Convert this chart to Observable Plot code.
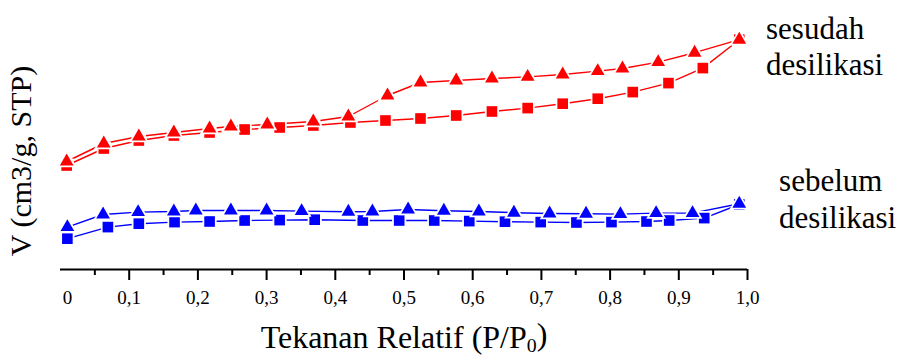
<!DOCTYPE html>
<html><head><meta charset="utf-8">
<script src="https://cdn.jsdelivr.net/npm/d3@7"></script>
<script src="https://cdn.jsdelivr.net/npm/@observablehq/plot@0.6"></script>
<style>body{margin:0;background:#fff} svg{display:block} svg text{font-family:"Liberation Serif","Times New Roman",serif}</style>
</head><body><div id="chart"></div>
<script>
// Relative pressure (P/P0) and volume adsorbed (arbitrary cm3/g units)
const sesudahTriX = [0.009,0.063,0.114,0.165,0.217,0.248,0.301,0.368,0.419,0.476,0.524,0.576,0.628,0.680,0.731,0.782,0.818,0.870,0.923,0.988];
const sesudahTriV = [54,63,66.5,68.5,70.5,71.5,72.5,74,76.5,87,93.5,94.5,95.5,96.3,97.5,99.2,100.5,103.7,108.4,114.9];
const sesudahSqX  = [0.009,0.063,0.114,0.165,0.217,0.268,0.319,0.368,0.422,0.473,0.524,0.576,0.628,0.680,0.731,0.782,0.833,0.885,0.935,0.988];
const sesudahSqV  = [52,60.5,64.5,67,68.5,70,71,72,73.5,74.5,75.5,77,79,80.7,82.9,85.4,88.7,93.2,100.7,114.9];
const sebelumTriX = [0.010,0.062,0.113,0.165,0.197,0.248,0.300,0.351,0.419,0.454,0.506,0.558,0.609,0.660,0.712,0.765,0.815,0.867,0.920,0.988];
const sebelumTriV = [21.2,27.5,28.7,29,29.5,29.5,29.5,29.2,28.9,29,30,29.4,29,28.4,28,27.9,27.7,28.2,28.2,32.9];
const sebelumSqX  = [0.010,0.069,0.114,0.166,0.217,0.268,0.319,0.370,0.440,0.493,0.544,0.595,0.647,0.699,0.751,0.802,0.853,0.886,0.937,0.988];
const sebelumSqV  = [15.4,21.2,22.9,23.7,24,24.5,24.7,24.9,24.5,24.5,24.5,24.2,23.9,23.7,23.5,23.7,24,24.5,25.7,32.5];

const majorTicks = [0.1,0.2,0.3,0.4,0.5,0.6,0.7,0.8,0.9,1.0];
const majorLabels = ["0,1","0,2","0,3","0,4","0,5","0,6","0,7","0,8","0,9","1,0"];
const minorTicks = [0.05,0.15,0.25,0.35,0.45,0.55,0.65,0.75,0.85,0.95];
const zeroTick = [0];
const zeroLabel = "0";

const xLabelMain = "Tekanan Relatif (P/P";
const xLabelSub = "0";
const xLabelEnd = ")";
const yLabel = "V (cm3/g, STP)";

const annotations = [
  {label: "sesudah\ndesilikasi", x: 1.027, v: 112.0},
  {label: "sebelum\ndesilikasi", x: 1.046, v: 35.8}
];

const RED = "#ff0000", BLUE = "#0000ff";
const FONT = "'Liberation Serif', 'Times New Roman', serif";
const rows = (xs, vs) => xs.map((x, i) => ({x, v: vs[i]}));
const series = [
  {data: rows(sesudahSqX, sesudahSqV), color: RED, symbol: "square", r: 6},
  {data: rows(sesudahTriX, sesudahTriV), color: RED, symbol: "triangle", r: 5.1},
  {data: rows(sebelumSqX, sebelumSqV), color: BLUE, symbol: "square", r: 6},
  {data: rows(sebelumTriX, sebelumTriV), color: BLUE, symbol: "triangle", r: 5.1}
];

const labelMap = new Map(majorTicks.map((t, i) => [t, majorLabels[i]]));

const marks = [];
for (const s of series) {
  marks.push(Plot.line(s.data, {x: "x", y: "v", stroke: s.color, strokeWidth: 1.4}));
}
for (const s of series) {
  marks.push(Plot.dot(s.data, {x: "x", y: "v", symbol: s.symbol, r: s.r, fill: s.color, stroke: "white", strokeWidth: 3.5, paintOrder: "stroke"}));
}
marks.push(
  Plot.ruleY([0], {strokeWidth: 2, stroke: "black"}),
  Plot.axisX(majorTicks, {tickSize: 11, strokeWidth: 2, tickPadding: 10, tickFormat: d => labelMap.get(d), fontSize: 19, fontFamily: FONT, label: null}),
  Plot.axisX(minorTicks, {tickSize: 6, strokeWidth: 2, tickFormat: () => "", label: null}),
  Plot.axisX(zeroTick, {tickSize: 0, tickPadding: 21, tickFormat: () => zeroLabel, fontSize: 19, fontFamily: FONT, dx: 7, label: null}),
  Plot.text([xLabelMain], {frameAnchor: "bottom", text: d => d, dy: 78, lineAnchor: "bottom", fontSize: 32, fontFamily: FONT}),
  Plot.text([yLabel], {frameAnchor: "left", text: d => d, textAnchor: "middle", rotate: -90, dx: -39, dy: 26, fontSize: 30, fontFamily: FONT}),
  Plot.text(annotations, {x: "x", y: "v", text: "label", textAnchor: "start", lineAnchor: "middle", lineHeight: 1.17, fontSize: 31, fontFamily: FONT})
);

const plot = Plot.plot({
  width: 899, height: 356,
  marginTop: 0, marginBottom: 87, marginLeft: 60, marginRight: 152,
  x: {domain: [0, 1], axis: null},
  y: {domain: [0, 134.5], axis: null},
  style: {fontFamily: FONT, color: "black", background: "white"},
  marks
});

// subscript in x label
d3.select(plot).selectAll("text").filter(function() { return this.textContent === xLabelMain; })
  .each(function() {
    const t = d3.select(this);
    t.text(null);
    t.append("tspan").text(xLabelMain);
    t.append("tspan").attr("font-size", "0.62em").attr("dy", "0.22em").text(xLabelSub);
    t.append("tspan").attr("dy", "-0.22em").text(xLabelEnd);
  });

document.getElementById("chart").appendChild(plot);
</script>
</body></html>
